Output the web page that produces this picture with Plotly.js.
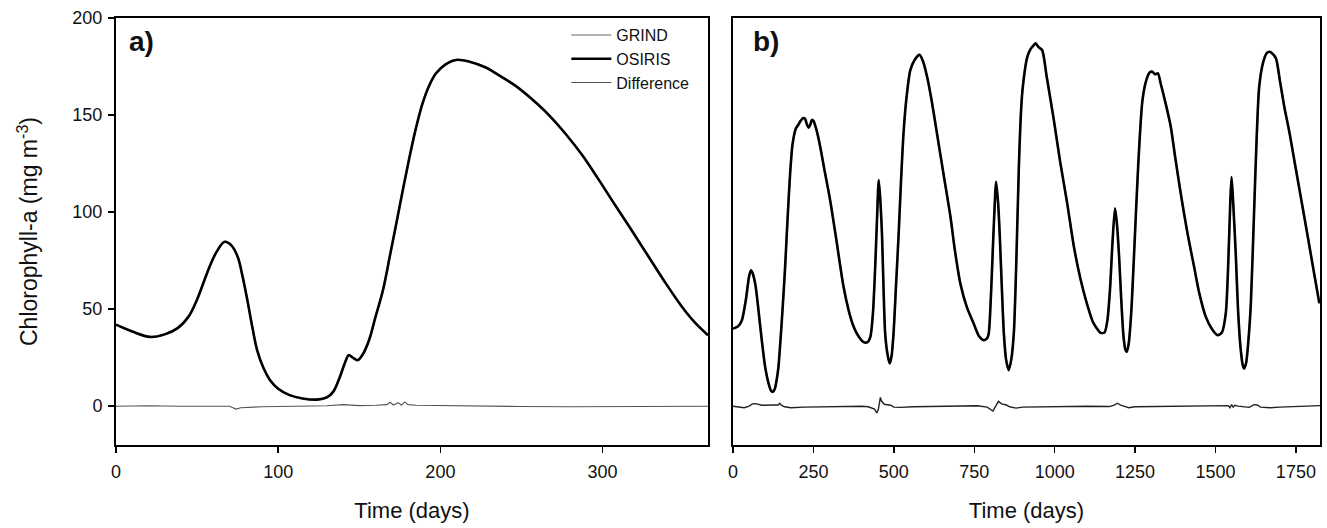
<!DOCTYPE html>
<html><head><meta charset="utf-8">
<script src="https://cdn.plot.ly/plotly-3.0.1.min.js"></script>
<style>html,body{margin:0;padding:0;background:#fff}#chart{width:1327px;height:528px}</style>
</head><body><div id="chart"></div><script>
// Panel a (one year)
const osirisA_day = [0,10,21,30,38,45,50,55,58,62,67,71,75,78,81,84,87,91,95,100,107,115,124,130,134,138,141,143.5,146,149,152,156,160,164.6,169,172.8,177,181,185,189,193,197.3,203,209.6,218,228,237,246.4,256,266.9,277,287.3,297,307.8,318,328,338,348.7,357,365];
const osirisA_val = [42,38.5,35.7,37,40.2,46.5,55,66,72.5,79.5,84.7,83,77,67,54.6,41,28.9,19.5,13.4,9,5.7,4,3.4,4.5,7.5,15,22,26.3,25,23.7,26.5,34,46,59.8,78,94,112,128.5,143.5,156,165,171.5,176,178.4,177.5,174.5,170,165,158.5,150,140.5,129.5,117.5,103.5,90.5,77.5,64.5,51.5,43,36.5];
const grindA_val = osirisA_val; // GRIND coincides with OSIRIS at this scale
const diffA_day = [0,20,40,60,70,74,77,85,90,110,130,140,150,160,167,169,171,174,176,178,180,185,200,220,250,280,300,320,340,365];
const diffA_val = [0,0.2,0,0.2,0,-1.5,-0.8,-0.5,-0.3,0,0.2,0.8,0.3,0.5,0.8,2,0.6,1.8,0.5,2.2,0.8,0.5,0.3,0,-0.2,-0.3,-0.2,-0.3,-0.2,0];

// Panel b (five years)
const osirisB_day = [0,15,27,40,50,56,62,70,80,90,100,110,118,124,130,136,141,150,157,162,170,177.5,185,195,203,210,218,224,230,235,240,245,250,260,271,285,302,320,343.5,360,375,390,406,418,427,435,442,448,453,458,463,468,473,480,487,493,499,507,515,522,530,540,551,565,580,590,603,618,634,655,676,690,707,727,748,765,779.5,790,795,800,805.6,812,818,824,829,836,842,849,857,865,873,880,888.6,894,900,915,925,935,940.5,950,961,975,997.5,1017,1039,1060,1081,1100,1120,1143,1155,1164,1172,1180,1187.6,1193,1200,1207,1214,1220,1224,1230,1238,1247,1260,1273,1285,1296,1304,1312,1321,1330,1345,1361,1375,1392,1412,1433.5,1450,1470,1488,1506,1520,1532,1540,1546,1550,1555,1563,1570,1578,1585,1589,1595,1602,1610,1620,1628,1636,1648,1660,1667,1675,1688,1700,1714,1730,1745,1765,1787,1805,1823];
const osirisB_val = [40,41,44,55,67,70,68,62,48,33,20,12,8,7.4,9,14,20,40,58,72,98,120,135,143,145,147,148.5,148,145,143.5,145,147.5,147,142,133.7,121,106,87,61.5,49,40.9,36,33,33,35.7,48,71.8,98,116.5,106,89,60,37.5,27,22,26,37.5,63,89,115,140.6,160,173,178.5,181,178,170,157,140.6,119,97.6,80,63,51,42.6,36,34,35,37.5,50,71.8,98,115.6,105,89,60,37.5,24,18.6,24,37.5,70,123,147.4,163,180,184,186,187,185,183.5,170,147.4,126,104.5,82,65,53,43,37.8,38,44.3,60,85,102,95,78,55,36,29,28,32,48,78.7,125,157.7,168,172,172.3,171,171.5,166,156,144,128,109.6,90,71.8,58,46,40,36.6,38,47.8,75,105,118,105,78.7,50,30,21,19.4,22,33,53,100,138,164.6,177,182,182.6,182,179.2,168,154.3,141,126.8,108,87.3,70,53];
const grindB_val = osirisB_val;
const diffB_day = [0,20,35,50,60,70,90,130,140,145,150,160,180,220,280,340,400,420,440,447,452,458,462,470,490,500,520,560,620,700,760,790,808,815,825,835,850,860,880,900,950,1000,1100,1170,1185,1195,1205,1220,1230,1250,1300,1400,1500,1540,1545,1550,1555,1560,1570,1590,1605,1620,1630,1640,1670,1700,1750,1800,1825];
const diffB_val = [0,-0.5,-0.8,0,1.2,1.3,0.5,0.6,0.6,1.5,0.5,-0.3,-0.8,-0.5,-0.3,-0.2,0,-0.3,-1.5,-3.5,-1.5,4.5,2.5,1,0.5,-0.5,-0.6,-0.3,-0.1,0,0.2,-0.5,-2.5,-0.5,2.5,1.2,0.6,-0.3,-1,-0.5,-0.3,-0.2,0,-0.2,0.5,1.5,0.5,-0.2,-0.8,-0.3,-0.2,0,0.2,0.3,-0.8,0.8,-0.5,0.5,0,-0.3,-0.6,0.8,0.6,-0.5,-0.8,-0.5,-0.2,0.2,0.3];

const xTicksA = [0,100,200,300];
const xTicksB = [0,250,500,750,1000,1250,1500,1750];
const yTicks = [0,50,100,150,200];
const seriesNames = ['GRIND','OSIRIS','Difference'];

const FONT = '"Liberation Sans", Arial, Helvetica, sans-serif';
const grindStyle = {color:'#b4b4b4', width:2};
const osirisStyle = {color:'#000000', width:2.6};
const diffStyleA = {color:'#555555', width:1.1};
const diffStyleB = {color:'#222222', width:1.4};

const traces = [
  {x:osirisA_day, y:grindA_val, name:seriesNames[0], mode:'lines', line:Object.assign({shape:'spline',smoothing:1}, grindStyle), xaxis:'x', yaxis:'y', legendrank:1},
  {x:osirisA_day, y:osirisA_val, name:seriesNames[1], mode:'lines', line:Object.assign({shape:'spline',smoothing:1}, osirisStyle), xaxis:'x', yaxis:'y', legendrank:2},
  {x:diffA_day, y:diffA_val, name:seriesNames[2], mode:'lines', line:diffStyleA, xaxis:'x', yaxis:'y', legendrank:3},
  {x:osirisB_day, y:grindB_val, name:seriesNames[0], mode:'lines', line:Object.assign({shape:'spline',smoothing:0.7}, grindStyle), xaxis:'x2', yaxis:'y2', showlegend:false},
  {x:osirisB_day, y:osirisB_val, name:seriesNames[1], mode:'lines', line:Object.assign({shape:'spline',smoothing:0.7}, osirisStyle), xaxis:'x2', yaxis:'y2', showlegend:false},
  {x:diffB_day, y:diffB_val, name:seriesNames[2], mode:'lines', line:diffStyleB, xaxis:'x2', yaxis:'y2', showlegend:false}
];

const axCommon = {showline:true, linecolor:'#000', linewidth:2, mirror:true, showgrid:false, zeroline:false,
  ticks:'outside', ticklen:6, tickwidth:1.5, tickcolor:'#000', tickfont:{family:FONT, size:18, color:'#111'}};

const layout = {
  width:1327, height:528,
  margin:{l:116, r:7, t:18, b:83},
  paper_bgcolor:'#fff', plot_bgcolor:'#fff',
  font:{family:FONT, color:'#111'},
  showlegend:true,
  legend:{x:0.374, y:1.0, xanchor:'left', yanchor:'top', bgcolor:'rgba(0,0,0,0)', font:{family:FONT, size:16, color:'#111'}, tracegroupgap:0, itemwidth:40, traceorder:'normal'},
  xaxis:Object.assign({}, axCommon, {domain:[0,0.4917], range:[0,365], tickvals:xTicksA, anchor:'y', ticklabelstandoff:3,
    title:{text:'Time (days)', font:{family:FONT, size:22, color:'#111'}, standoff:22}}),
  yaxis:Object.assign({}, axCommon, {domain:[0,1], range:[-20,200], tickvals:yTicks, anchor:'x', ticklabelstandoff:2,
    title:{text:'Chlorophyll-a (mg m<sup>-3</sup>)', font:{family:FONT, size:23, color:'#111'}, standoff:28}}),
  xaxis2:Object.assign({}, axCommon, {domain:[0.5125,1], range:[0,1825], tickvals:xTicksB, anchor:'y2', ticklabelstandoff:3,
    title:{text:'Time (days)', font:{family:FONT, size:22, color:'#111'}, standoff:22}}),
  yaxis2:Object.assign({}, axCommon, {domain:[0,1], range:[-20,200], anchor:'x2', ticks:'', showticklabels:false}),
  annotations:[
    {xref:'x domain', yref:'y domain', x:0.018, y:0.945, xanchor:'left', yanchor:'middle', text:'<b>a)</b>', showarrow:false, font:{family:FONT, size:28, color:'#111'}},
    {xref:'x2 domain', yref:'y2 domain', x:0.03, y:0.945, xanchor:'left', yanchor:'middle', text:'<b>b)</b>', showarrow:false, font:{family:FONT, size:28, color:'#111'}}
  ]
};

Plotly.newPlot('chart', traces, layout, {staticPlot:true, displayModeBar:false});
</script></body></html>
